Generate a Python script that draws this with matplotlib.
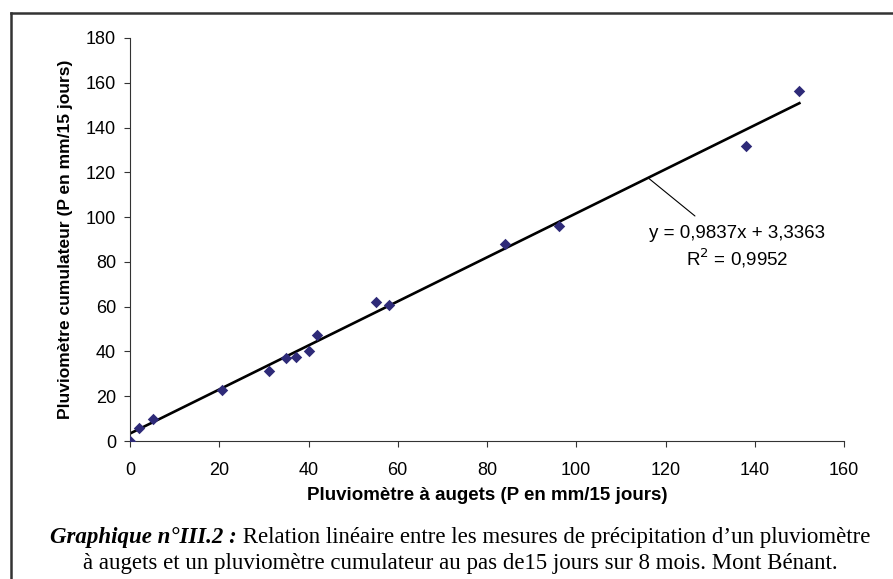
import numpy as np
import matplotlib
matplotlib.use("Agg")
import matplotlib.pyplot as plt
from matplotlib.lines import Line2D

# data (P in mm / 15 days)
auget = [0, 2, 5.2, 20.7, 31.1, 35, 37.1, 40, 42, 55.1, 58.1, 84, 96.1, 138, 150]
cumul = [0, 5.8, 9.8, 22.7, 31.3, 37, 37.6, 40.2, 47.3, 62.2, 60.9, 88.1, 96, 131.8, 156.3]
slope, intercept, r2 = 0.9837, 3.3363, 0.9952
x_ticks = [0, 20, 40, 60, 80, 100, 120, 140, 160]
y_ticks = [0, 20, 40, 60, 80, 100, 120, 140, 160, 180]

sans = "Liberation Sans"
serif = "Liberation Serif"
marker_color = "#2e2a78"
axis_color = "#333333"

fig = plt.figure(figsize=(8.93, 5.79), dpi=100, facecolor="white")
ax = fig.add_axes([130 / 893, 1 - 441 / 579, 714 / 893, 403 / 579])

ax.scatter(auget, cumul, marker="D", s=34, color=marker_color, zorder=3, linewidths=0)
xs = np.array([0, 150])
ax.plot(xs, slope * xs + intercept, color="black", lw=1.9, zorder=2)

ax.set_xlim(0, 160)
ax.set_ylim(0, 180)
ax.set_xticks(x_ticks)
ax.set_yticks(y_ticks)
ax.tick_params(axis="both", direction="out", length=4, width=0.8, color=axis_color,
               labelsize=13)
ax.tick_params(axis="x", pad=11)
ax.tick_params(axis="y", pad=6)
for lab in ax.get_xticklabels() + ax.get_yticklabels():
    lab.set_fontfamily(sans)
for side in ["top", "right"]:
    ax.spines[side].set_visible(False)
for side in ["left", "bottom"]:
    ax.spines[side].set_color(axis_color)
    ax.spines[side].set_linewidth(0.8)

ax.set_xlabel("Pluviomètre à augets (P en mm/15 jours)", fontfamily=sans,
              fontsize=13.5, fontweight="bold", labelpad=6)
ax.set_ylabel("Pluviomètre cumulateur (P en mm/15 jours)", fontfamily=sans,
              fontsize=12.5, fontweight="bold", labelpad=9)

# trendline label with leader line
ax.annotate("", xy=(116.1, slope * 116.1 + intercept), xytext=(126.6, 100.5),
            arrowprops=dict(arrowstyle="-", color="black", lw=0.8, shrinkA=0, shrinkB=0))
ax.text(136, 92.5, "y = 0,9837x + 3,3363", ha="center", va="center",
        fontfamily=sans, fontsize=13.5)
ax.text(136, 81.7, "R$^2$ = 0,9952", ha="center", va="center",
        fontfamily=sans, fontsize=13.5)

# frame around figure (clipped right and bottom)
fig.add_artist(Line2D([11 / 893, 11 / 893], [0, 1 - 12.5 / 579],
                      transform=fig.transFigure, color="#333333", lw=1.8))
fig.add_artist(Line2D([11 / 893, 1], [1 - 12.5 / 579, 1 - 12.5 / 579],
                      transform=fig.transFigure, color="#333333", lw=1.8))

# caption
cap_size = 16.5
renderer = fig.canvas.get_renderer()
head = fig.text(0, 1 - 538 / 579, "Graphique n°III.2 :", fontfamily=serif,
                fontsize=cap_size, fontweight="bold", fontstyle="italic", va="center")
body = fig.text(0, 1 - 538 / 579,
                " Relation linéaire entre les mesures de précipitation d\u2019un pluviomètre",
                fontfamily=serif, fontsize=cap_size, va="center")
w_head = head.get_window_extent(renderer).width
w_body = body.get_window_extent(renderer).width
x0 = 460 - (w_head + w_body) / 2
head.set_x(x0 / 893)
body.set_x((x0 + w_head) / 893)
fig.text(460 / 893, 1 - 564 / 579,
         "à augets et un pluviomètre cumulateur au pas de15 jours sur 8 mois. Mont Bénant.",
         fontfamily=serif, fontsize=cap_size, ha="center", va="center")

fig.savefig("out.png", dpi=100, facecolor="white")
